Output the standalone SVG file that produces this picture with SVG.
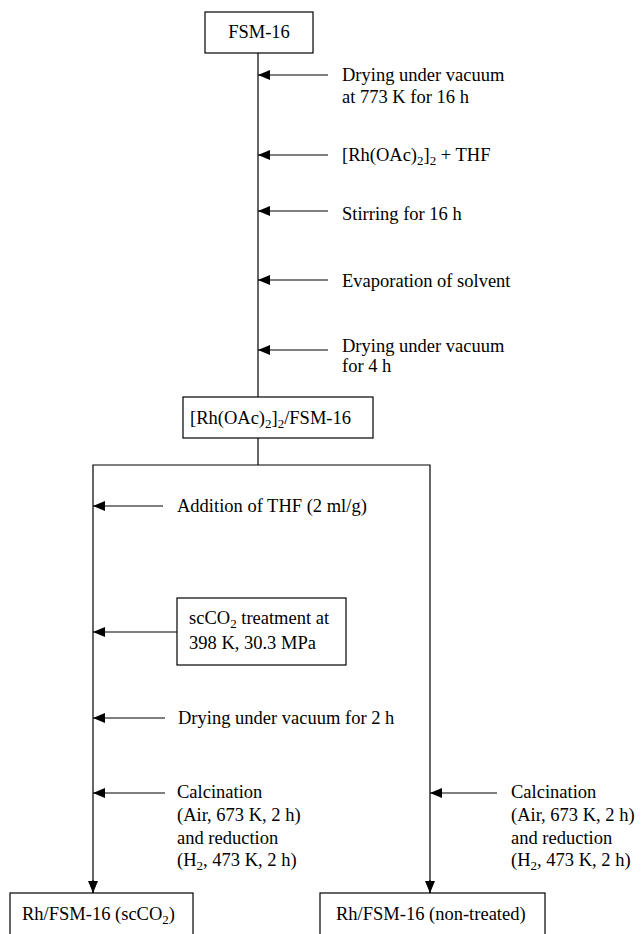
<svg xmlns="http://www.w3.org/2000/svg" width="641" height="934" viewBox="0 0 641 934">
<style>
  text { font-family: "Liberation Serif", "Times New Roman", serif; font-size: 18.5px; fill: #000; }
  .sub { font-size: 13px; }
  .box { fill: #fff; stroke: #000; stroke-width: 1.2; }
  .ln { stroke: #000; stroke-width: 1.2; fill: none; }
</style>
<defs>
  <marker id="ah" markerWidth="12" markerHeight="10" refX="12" refY="5" orient="auto" markerUnits="userSpaceOnUse">
    <path d="M0,0 L12,5 L0,10 Z" fill="#000"/>
  </marker>
</defs>
<rect width="641" height="934" fill="#fff"/>
<g id="connectors">
  <line class="ln" x1="258" y1="53" x2="258" y2="397"/>
  <line class="ln" x1="328" y1="75" x2="258" y2="75" marker-end="url(#ah)"/>
  <line class="ln" x1="328" y1="155" x2="258" y2="155" marker-end="url(#ah)"/>
  <line class="ln" x1="328" y1="211" x2="258" y2="211" marker-end="url(#ah)"/>
  <line class="ln" x1="328" y1="280" x2="258" y2="280" marker-end="url(#ah)"/>
  <line class="ln" x1="328" y1="350" x2="258" y2="350" marker-end="url(#ah)"/>
  <line class="ln" x1="258" y1="438" x2="258" y2="465"/>
  <polyline class="ln" points="93,893 93,465 430,465 430,893"/>
  <line class="ln" x1="93" y1="880" x2="93" y2="893" marker-end="url(#ah)"/>
  <line class="ln" x1="430" y1="880" x2="430" y2="893" marker-end="url(#ah)"/>
  <line class="ln" x1="163" y1="506" x2="93" y2="506" marker-end="url(#ah)"/>
  <line class="ln" x1="177" y1="632" x2="93" y2="632" marker-end="url(#ah)"/>
  <line class="ln" x1="165" y1="718" x2="93" y2="718" marker-end="url(#ah)"/>
  <line class="ln" x1="165" y1="793" x2="93" y2="793" marker-end="url(#ah)"/>
  <line class="ln" x1="497" y1="793" x2="430" y2="793" marker-end="url(#ah)"/>
</g>
<g id="fsm16">
  <rect class="box" x="205" y="12" width="108" height="41"/>
  <text x="259" y="38" text-anchor="middle">FSM-16</text>
</g>
<g id="step-drying1">
  <text x="342" y="81">Drying under vacuum</text>
  <text x="342" y="103">at 773 K for 16 h</text>
</g>
<g id="step-rh">
  <text x="342" y="161">[Rh(OAc)<tspan class="sub" dy="4">2</tspan><tspan dy="-4">]</tspan><tspan class="sub" dy="4">2</tspan><tspan dy="-4"> + THF</tspan></text>
</g>
<g id="step-stirring">
  <text x="342" y="220">Stirring for 16 h</text>
</g>
<g id="step-evap">
  <text x="342" y="287">Evaporation of solvent</text>
</g>
<g id="step-drying2">
  <text x="342" y="352">Drying under vacuum</text>
  <text x="342" y="372">for 4 h</text>
</g>
<g id="rh-fsm16">
  <rect class="box" x="183" y="397" width="190" height="41"/>
  <text x="190" y="424">[Rh(OAc)<tspan class="sub" dy="4">2</tspan><tspan dy="-4">]</tspan><tspan class="sub" dy="4">2</tspan><tspan dy="-4">/FSM-16</tspan></text>
</g>
<g id="step-thf">
  <text x="177" y="512">Addition of THF (2 ml/g)</text>
</g>
<g id="scco2-treatment">
  <rect class="box" x="177" y="598" width="169" height="67"/>
  <text x="189" y="624">scCO<tspan class="sub" dy="4">2</tspan><tspan dy="-4"> treatment at</tspan></text>
  <text x="189" y="649">398 K, 30.3 MPa</text>
</g>
<g id="step-drying3">
  <text x="178" y="724">Drying under vacuum for 2 h</text>
</g>
<g id="step-calc-left">
  <text x="177" y="798">Calcination</text>
  <text x="177" y="821">(Air, 673 K, 2 h)</text>
  <text x="177" y="844">and reduction</text>
  <text x="177" y="866">(H<tspan class="sub" dy="4">2</tspan><tspan dy="-4">, 473 K, 2 h)</tspan></text>
</g>
<g id="step-calc-right">
  <text x="511" y="798">Calcination</text>
  <text x="511" y="821">(Air, 673 K, 2 h)</text>
  <text x="511" y="844">and reduction</text>
  <text x="511" y="866">(H<tspan class="sub" dy="4">2</tspan><tspan dy="-4">, 473 K, 2 h)</tspan></text>
</g>
<g id="rh-scco2">
  <rect class="box" x="10" y="893" width="183" height="50"/>
  <text x="22" y="920">Rh/FSM-16 (scCO<tspan class="sub" dy="4">2</tspan><tspan dy="-4">)</tspan></text>
</g>
<g id="rh-nontreated">
  <rect class="box" x="320" y="893" width="225" height="50"/>
  <text x="336" y="920">Rh/FSM-16 (non-treated)</text>
</g>
</svg>
